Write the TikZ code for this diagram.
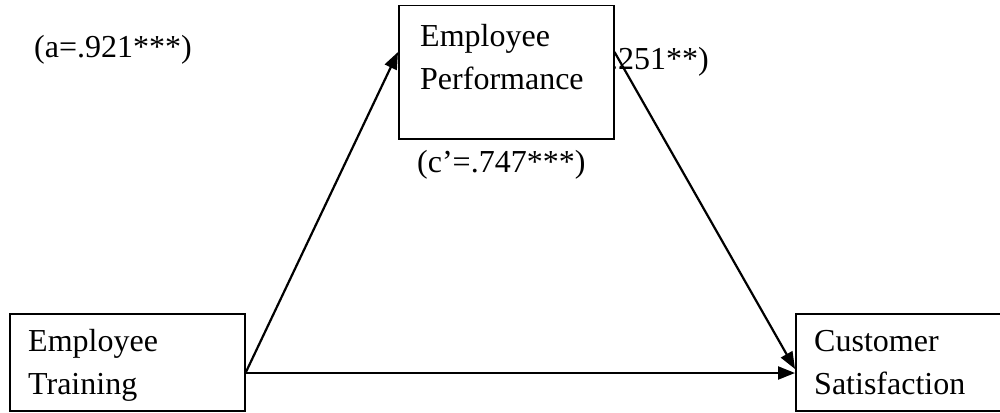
\documentclass[tikz,border=0pt]{standalone}
\usepackage{fontspec}
\setmainfont{Liberation Serif}
\usetikzlibrary{arrows.meta}
\begin{document}
\begin{tikzpicture}[x=1pt,y=-1pt,
  box/.style={draw=black,line width=1.5pt,fill=white,inner sep=0pt,anchor=north west},
  txt/.style={inner sep=0pt,anchor=base west,font=\fontsize{32}{43}\selectfont},
  arr/.style={line width=2.2pt,-{Triangle[length=17pt,width=13pt]}}]
\useasboundingbox (0,0) rectangle (1000,412);
\clip (0,0) rectangle (1000,412);
% labels
\node[txt] (la) at (34,57) {(a=.921***)};
\node[txt,anchor=base east] (lb) at (709,69) {(b=.251**)};
\node[txt] (lc) at (417,172) {(c’=.747***)};
% boxes
\node[box,minimum width=215pt,minimum height=133pt] (perf) at (398,5) {};
\node[box,minimum width=235pt,minimum height=97pt] (train) at (9,313) {};
\node[box,minimum width=240pt,minimum height=97pt] (cust) at (795,313) {};
% box texts
\node[txt] (p1) at (420,46) {Employee};
\node[txt] (p2) at (420,89) {Performance};
\node[txt] (t1) at (28,351) {Employee};
\node[txt] (t2) at (28,394) {Training};
\node[txt] (c1) at (814,351) {Customer};
\node[txt] (c2) at (814,394) {Satisfaction};
% connector points
\coordinate (s1) at ([yshift=-60pt]train.north east);
\coordinate (e1) at ([yshift=-47pt]perf.north west);
\coordinate (s2) at ([yshift=-47pt]perf.north east);
\coordinate (e2) at ([yshift=-56pt]cust.north west);
\coordinate (e3) at ([yshift=-60pt]cust.north west);
\draw[arr] (s1) -- (e1);
\draw[arr] (s2) -- (e2);
\draw[arr] (s1) -- (e3);
\end{tikzpicture}
\end{document}
